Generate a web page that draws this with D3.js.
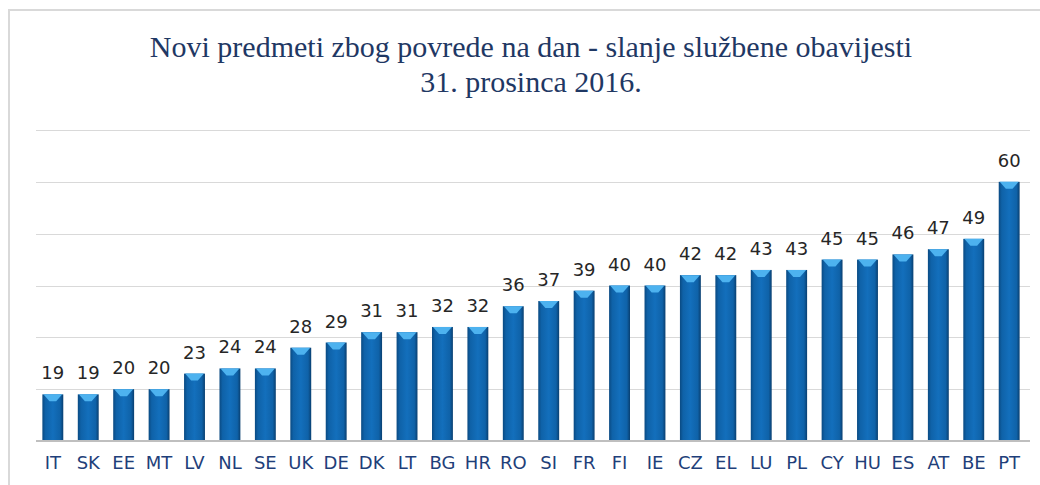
<!DOCTYPE html>
<html>
<head>
<meta charset="utf-8">
<script src="https://cdn.jsdelivr.net/npm/d3@7"></script>
<style>
  body { margin: 0; background: #fff; }
  svg { display: block; }
</style>
</head>
<body>
<div id="svganchor"></div>
<script>
// data
let countries = ["IT", "SK", "EE", "MT", "LV", "NL", "SE", "UK", "DE", "DK", "LT", "BG", "HR", "RO",
  "SI", "FR", "FI", "IE", "CZ", "EL", "LU", "PL", "CY", "HU", "ES", "AT", "BE", "PT"];
let cases = [19, 19, 20, 20, 23, 24, 24, 28, 29, 31, 31, 32, 32, 36,
  37, 39, 40, 40, 42, 42, 43, 43, 45, 45, 46, 47, 49, 60];
let yTicks = [20, 30, 40, 50, 60, 70];
let titleLines = ["Novi predmeti zbog povrede na dan - slanje službene obavijesti", "31. prosinca 2016."];

let width = 1040;
let height = 485;
let margin = { top: 130, right: 14, bottom: 44, left: 36 };

let svg = d3.select("#svganchor").append("svg").attr("width", width).attr("height", height);

// outer frame
svg.append("rect")
  .attr("x", 9).attr("y", 10)
  .attr("width", 1060).attr("height", 520)
  .attr("fill", "none")
  .attr("stroke", "#d9d9d9")
  .attr("stroke-width", 2);

let data = countries.map((c, i) => ({ country: c, value: cases[i] }));

let xScale = d3.scaleBand()
  .domain(countries)
  .range([margin.left, width - margin.right])
  .paddingInner(0.41)
  .paddingOuter(0.18);

let yScale = d3.scaleLinear()
  .domain([10, 70])
  .range([height - margin.bottom, margin.top]);

// gradient for bars
let defs = svg.append("defs");
let grad = defs.append("linearGradient").attr("id", "barGrad")
  .attr("x1", "0%").attr("x2", "100%").attr("y1", "0%").attr("y2", "0%");
grad.append("stop").attr("offset", "0%").attr("stop-color", "#0a4a82");
grad.append("stop").attr("offset", "15%").attr("stop-color", "#0f62a8");
grad.append("stop").attr("offset", "50%").attr("stop-color", "#136fbc");
grad.append("stop").attr("offset", "85%").attr("stop-color", "#0f62a8");
grad.append("stop").attr("offset", "100%").attr("stop-color", "#093f70");

// gridlines
svg.append("g")
  .attr("class", "grid")
  .selectAll("line")
  .data(yTicks)
  .enter()
  .append("line")
  .attr("x1", margin.left)
  .attr("x2", width - margin.right + 4)
  .attr("y1", d => Math.round(yScale(d)) + 0.5)
  .attr("y2", d => Math.round(yScale(d)) + 0.5)
  .attr("stroke", "#d9d9d9")
  .attr("stroke-width", 1);

// title
svg.append("text")
  .attr("x", 531)
  .attr("y", 57)
  .attr("text-anchor", "middle")
  .style("font-family", "'Liberation Serif', 'Times New Roman', serif")
  .style("font-size", "30px")
  .attr("fill", "#1f3864")
  .selectAll("tspan")
  .data(titleLines)
  .enter()
  .append("tspan")
  .attr("x", 531)
  .attr("dy", (d, i) => i === 0 ? 0 : 35)
  .text(d => d);

// bars
let bars = svg.selectAll(".bar")
  .data(data)
  .enter()
  .append("g")
  .attr("class", "bar");

bars.append("rect")
  .attr("x", d => xScale(d.country))
  .attr("y", d => yScale(d.value))
  .attr("width", xScale.bandwidth())
  .attr("height", d => yScale(10) - yScale(d.value))
  .attr("fill", "url(#barGrad)");

// light bevel on the top of each bar
bars.append("polygon")
  .attr("points", function (d) {
    let x = xScale(d.country);
    let w = xScale.bandwidth();
    let y = yScale(d.value);
    return [[x + 1, y], [x + w - 1, y], [x + w * 0.66, y + 7], [x + w * 0.34, y + 7]]
      .map(p => p.join(",")).join(" ");
  })
  .attr("fill", "#4db2ef");

// value labels
svg.selectAll(".label")
  .data(data)
  .enter()
  .append("text")
  .attr("class", "label")
  .attr("x", d => xScale(d.country) + xScale.bandwidth() / 2)
  .attr("y", d => yScale(d.value) - 15)
  .attr("text-anchor", "middle")
  .style("font-family", "'DejaVu Sans', Verdana, sans-serif")
  .style("font-size", "18px")
  .attr("fill", "#262626")
  .text(d => d.value);

// x axis
let xAxis = d3.axisBottom(xScale).tickSize(0).tickPadding(15);
let gx = svg.append("g")
  .attr("class", "x axis")
  .attr("transform", "translate(0," + yScale(10) + ")")
  .call(xAxis);
gx.select(".domain")
  .attr("d", "M" + margin.left + ",0H" + (width - margin.right + 4))
  .attr("stroke", "#bfbfbf")
  .attr("stroke-width", 2);
gx.selectAll("text")
  .style("font-family", "'DejaVu Sans', Verdana, sans-serif")
  .style("font-size", "18px")
  .attr("fill", "#1f3f7a");
</script>
</body>
</html>
